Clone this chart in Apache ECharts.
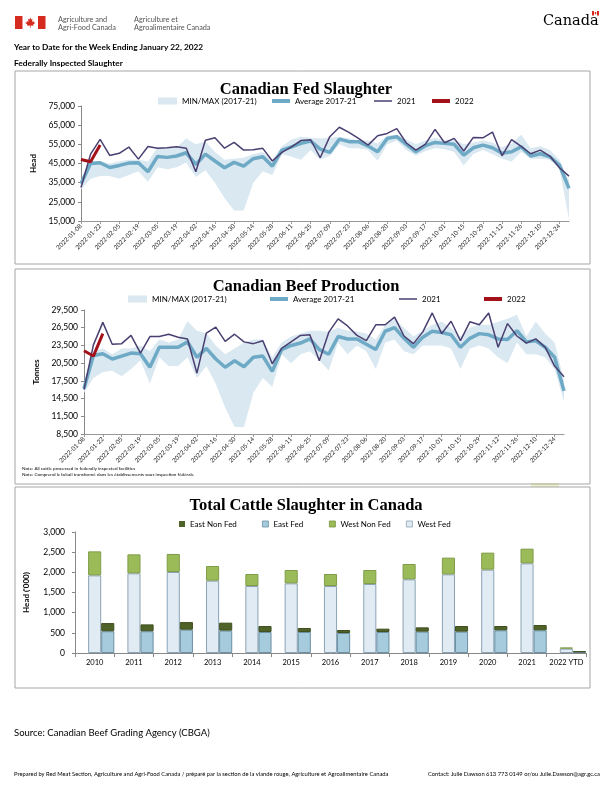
<!DOCTYPE html>
<html><head><meta charset="utf-8">
<script src="https://cdn.jsdelivr.net/npm/echarts@6/dist/echarts.min.js"></script>
<style>html,body{margin:0;padding:0;background:#fff;}#c{width:612px;height:792px;}</style>
</head><body><div id="c"></div>
<script>
// ---------- DATA ----------
const weeks = ['2022-01-08','2022-01-15','2022-01-22','2022-01-29','2022-02-05','2022-02-12','2022-02-19','2022-02-26','2022-03-05','2022-03-12','2022-03-19','2022-03-26','2022-04-02','2022-04-09','2022-04-16','2022-04-23','2022-04-30','2022-05-07','2022-05-14','2022-05-21','2022-05-28','2022-06-04','2022-06-11','2022-06-18','2022-06-25','2022-07-02','2022-07-09','2022-07-16','2022-07-23','2022-07-30','2022-08-06','2022-08-13','2022-08-20','2022-08-27','2022-09-03','2022-09-10','2022-09-17','2022-09-24','2022-10-01','2022-10-08','2022-10-15','2022-10-22','2022-10-29','2022-11-05','2022-11-12','2022-11-19','2022-11-26','2022-12-03','2022-12-10','2022-12-17','2022-12-24','2022-12-31'];

// Canadian Fed Slaughter (head)
const fedMin = [31500,37000,38500,38500,37000,39000,41000,35500,43000,42000,43000,45500,38000,41500,35000,27000,20500,20500,35000,41000,39000,50000,48500,47000,52000,47000,49000,55000,53000,53000,52000,46500,55000,57000,52000,49000,51500,53000,52500,51000,44000,50000,52000,50000,47500,46000,51000,47500,47500,47000,42000,16000];
const fedMax = [36000,46500,46000,45000,46000,47000,47000,46000,53500,53000,53500,58000,55000,56500,51000,47000,47500,48000,50000,51000,47000,54000,57500,59000,58500,58000,58500,59000,58000,57000,57000,55500,59500,60000,57500,55000,57000,58500,57000,57500,55000,56000,57000,56000,53500,55500,60000,53000,54000,52000,47000,36000];
const fedAvg = [34500,45000,45400,42900,44000,45200,45400,40700,48700,48200,48900,50600,44500,49900,46300,42800,45600,43600,47500,48500,43600,52000,53700,55500,56700,52500,50800,57700,56400,56400,54100,51100,58100,59000,55000,51100,54300,56000,55500,55000,49400,53200,54600,53200,50300,51100,53700,48900,50100,48500,44200,32000];
const fed2021 = [32500,49900,57600,49200,50300,53600,47300,53900,52900,53200,53700,53000,40700,57100,58400,53000,56000,52000,52200,52900,46300,50800,53700,57000,57400,48000,59000,63900,61200,58100,54600,59500,60700,63200,55700,52000,55100,62800,55800,58100,51500,58600,58400,61400,49000,57400,53900,50100,52000,48900,42800,38400];
const fed2022 = [47100,45900,54600];

// Canadian Beef Production (tonnes)
const beefMin = [15500,18000,19000,19200,18300,19500,21000,17000,21500,20000,20000,21500,18000,20000,17000,13000,9700,9700,15500,18000,16500,22000,20500,22000,22500,21000,19200,24000,22000,23500,22500,19500,24000,24500,22500,22000,23500,23500,23500,23000,19500,23000,23500,23000,21500,20500,24000,22000,22000,21500,19500,14000];
const beefMax = [16800,22500,23000,22000,23000,23000,23500,22500,24500,24000,24500,27600,26000,25500,23500,22000,23000,24000,24500,24500,21500,24000,25000,25500,26000,26000,25800,26500,26000,25800,25500,24500,27000,28000,26500,25000,26000,27000,27500,26500,25000,26500,27000,27000,27500,28000,28700,25000,27500,25500,24000,17500];
const beefAvg = [16200,21800,22100,21200,21700,22200,22100,19800,23200,23200,23200,24100,21500,23000,21200,19800,20900,19900,21500,21700,19100,22800,23500,23900,24600,22800,22000,25000,24600,24600,23700,22800,25900,26500,24700,23200,24900,25900,25700,25300,23200,24700,25500,25300,24600,24500,26000,24100,24300,23200,21500,15800];
const beef2021 = [16000,23600,27400,23700,23800,25200,22200,25000,25000,25400,24900,24600,18800,25600,26600,24200,25400,24100,23800,24300,20400,23000,24100,25200,25300,20900,25700,28000,26800,25200,24300,27000,27000,28300,25100,23800,25800,29000,25500,27600,24300,27500,27000,29000,23200,27200,25100,23900,24600,23200,20000,18200];
const beef2022 = [22600,21700,25500];

// Total Cattle Slaughter in Canada ('000 head)
const years = ['2010','2011','2012','2013','2014','2015','2016','2017','2018','2019','2020','2021','2022 YTD'];
const westFed    = [1925,1975,2008,1793,1661,1727,1661,1711,1826,1950,2066,2223,108];
const westNonFed = [595,471,447,364,298,331,298,347,381,414,422,364,28];
const eastFed    = [540,540,578,555,521,521,496,521,529,529,562,562,25];
const eastNonFed = [202,169,189,197,148,99,74,82,107,140,107,132,15];

// ---------- STYLE ----------
const FONT = 'Lato, "Liberation Sans", sans-serif';
const TFONT = '"Liberation Serif", "DejaVu Serif", serif';
const BAND = '#d9e8f1', AVG = '#6eaac5', C21 = '#4a3f70', C22 = '#a3121a';
const fmt = v => v.toLocaleString('en-US');

function xCat(gridIndex){
  return {type:'category', gridIndex, data: weeks, boundaryGap:false,
    axisLine:{lineStyle:{color:'#999',width:1}},
    axisTick:{interval:1, length:3, lineStyle:{color:'#999'}},
    axisLabel:{interval:1, rotate:45, fontSize:6.2, fontFamily:FONT, color:'#222', margin:4}};
}
function yVal(gridIndex, min, max, interval, name, nameGap, margin){
  return {type:'value', gridIndex, min, max, interval, name, nameLocation:'middle', nameGap,
    nameTextStyle:{fontSize:8, fontWeight:'bold', fontFamily:FONT, color:'#000'},
    splitLine:{show:false},
    axisLine:{show:true, lineStyle:{color:'#888'}},
    axisTick:{show:true, length:3, lineStyle:{color:'#888'}},
    axisLabel:{formatter:fmt, fontSize:8.5, fontFamily:FONT, color:'#000', margin}};
}
function bandSeries(idx, mins, maxs, key){
  return [
    {type:'line', name:key+'base', xAxisIndex:idx, yAxisIndex:idx, data:mins, stack:key, symbol:'none', silent:true,
      lineStyle:{opacity:0}, z:1},
    {type:'line', name:'MIN/MAX (2017-21)', xAxisIndex:idx, yAxisIndex:idx, data:maxs.map((v,i)=>v-mins[i]), stack:key,
      symbol:'none', silent:true, lineStyle:{opacity:0}, itemStyle:{color:BAND}, areaStyle:{color:BAND, opacity:1}, z:1}
  ];
}
function lineSeries(idx, name, data, color, width, z){
  return {type:'line', name, xAxisIndex:idx, yAxisIndex:idx, data, symbol:'none', silent:true,
    itemStyle:{color}, lineStyle:{color, width}, z};
}
function leg(name, left, top, w, h, color, fs, border){
  return {data:[{name, icon:'rect', itemStyle:{color, borderColor:border||color, borderWidth:border?0.8:0}}],
    left, top, padding:0, itemWidth:w, itemHeight:h, selectedMode:false,
    textStyle:{fontSize:fs, fontFamily:FONT, color:'#000'}};
}
const titleStyle = fs => ({fontFamily:TFONT, fontWeight:'bold', fontSize:fs, color:'#000'});

const option = {
  backgroundColor:'#fff',
  animation:false,
  title:[
    {text:'Canadian Fed Slaughter', left:'center', top:76, textStyle:titleStyle(16.5)},
    {text:'Canadian Beef Production', left:'center', top:273, textStyle:titleStyle(16.5)},
    {text:'Total Cattle Slaughter in Canada', left:'center', top:492, textStyle:titleStyle(16.5)}
  ],
  legend:[
    leg('MIN/MAX (2017-21)', 158, 97, 19, 7, BAND, 8),
    leg('Average 2017-21', 272, 97, 18, 4, AVG, 8),
    leg('2021', 374, 97, 18, 1.5, C21, 8),
    leg('2022', 432, 97, 18, 4, C22, 8),
    leg('MIN/MAX (2017-21)', 128, 295, 19, 7, BAND, 8),
    leg('Average 2017-21', 270, 295, 18, 4, AVG, 8),
    leg('2021', 399, 295, 18, 1.5, C21, 8),
    leg('2022', 484, 295, 18, 4, C22, 8),
    leg('East Non Fed', 179, 520, 6, 6, '#4f6228', 8),
    leg('East Fed', 262, 520, 6, 6, '#a5cbdd', 8, '#6b8fa3'),
    leg('West Non Fed', 329, 520, 6, 6, '#9bbb59', 8, '#76933c'),
    leg('West Fed', 406, 520, 6, 6, '#e0ebf4', 8, '#8ba3b4')
  ],
  grid:[
    {left:81, right:43, top:106, bottom:571},
    {left:84, right:48, top:310, bottom:358},
    {left:75, right:26, top:532, bottom:139}
  ],
  xAxis:[
    xCat(0), xCat(1),
    {type:'category', gridIndex:2, data:years,
      axisLine:{lineStyle:{color:'#888'}}, axisTick:{show:true, length:4, lineStyle:{color:'#888'}},
      axisLabel:{interval:0, fontSize:7.5, fontFamily:FONT, color:'#000', margin:6}}
  ],
  yAxis:[
    yVal(0, 15000, 75000, 10000, 'Head', 37, 6),
    yVal(1, 8500, 29500, 3000, 'Tonnes', 38, 6),
    yVal(2, 0, 3000, 500, "Head ('000)", 44.5, 10)
  ],
  series:[
    ...bandSeries(0, fedMin, fedMax, 'fedBand'),
    lineSeries(0, 'Average 2017-21', fedAvg, AVG, 3.5, 3),
    lineSeries(0, '2021', fed2021, C21, 1.5, 4),
    lineSeries(0, '2022', fed2022, C22, 3, 5),
    ...bandSeries(1, beefMin, beefMax, 'beefBand'),
    lineSeries(1, 'Average 2017-21', beefAvg, AVG, 3.5, 3),
    lineSeries(1, '2021', beef2021, C21, 1.5, 4),
    lineSeries(1, '2022', beef2022, C22, 3, 5),
    // empty first slot (the reference reserves an unused bar position left of each pair)
    {type:'bar', name:'_slot', xAxisIndex:2, yAxisIndex:2, stack:'slot', data:years.map(()=>null),
      barGap:'0%', barCategoryGap:'0%', silent:true},
    {type:'bar', name:'West Fed', xAxisIndex:2, yAxisIndex:2, stack:'west', data:westFed, barGap:'0%', barCategoryGap:'0%',
      itemStyle:{color:'#e0ebf4', borderColor:'#8ba3b4', borderWidth:1}, silent:true},
    {type:'bar', name:'West Non Fed', xAxisIndex:2, yAxisIndex:2, stack:'west', data:westNonFed, barGap:'0%', barCategoryGap:'0%',
      itemStyle:{color:'#9bbb59', borderColor:'#7f9c48', borderWidth:1}, silent:true},
    {type:'bar', name:'East Fed', xAxisIndex:2, yAxisIndex:2, stack:'east', data:eastFed, barGap:'0%', barCategoryGap:'0%',
      itemStyle:{color:'#a5cbdd', borderColor:'#6b8fa3', borderWidth:1}, silent:true},
    {type:'bar', name:'East Non Fed', xAxisIndex:2, yAxisIndex:2, stack:'east', data:eastNonFed, barGap:'0%', barCategoryGap:'0%',
      itemStyle:{color:'#4f6228', borderColor:'#3f4f20', borderWidth:1}, silent:true}
  ],
  graphic:[
    // chart frames
    {type:'rect', shape:{x:15, y:71, width:575, height:193}, style:{fill:null, stroke:'#a6a6a6', lineWidth:1}, z:-1},
    {type:'rect', shape:{x:15, y:269, width:575, height:215}, style:{fill:null, stroke:'#a6a6a6', lineWidth:1}, z:-1},
    {type:'rect', shape:{x:15, y:487, width:575, height:201}, style:{fill:null, stroke:'#a6a6a6', lineWidth:1}, z:-1},
    {type:'rect', shape:{x:531, y:483, width:28, height:4}, style:{fill:'#eef0c8'}, z:-2},
    // AAFC logo
    {type:'rect', shape:{x:15, y:16, width:7.5, height:13}, style:{fill:'#d52b1e'}},
    {type:'rect', shape:{x:38, y:16, width:7.5, height:13}, style:{fill:'#d52b1e'}},
    {type:'group', x:24.5, y:16.5, scaleX:0.72, scaleY:0.78, children:[
      {type:'polygon', shape:{points:[[8,1],[9,4],[11,3],[10.5,7],[13,5.5],[12.5,7.5],[15,8],[12,10.5],[12.5,12],[8.5,11.5],[8.5,14.5],[7.5,14.5],[7.5,11.5],[3.5,12],[4,10.5],[1,8],[3.5,7.5],[3,5.5],[5.5,7],[5,3],[7,4]]}, style:{fill:'#d52b1e'}}
    ]},
    {type:'text', left:58, top:15, style:{text:'Agriculture and\nAgri-Food Canada', font:'7.3px '+FONT, fill:'#555', lineHeight:8.5}},
    {type:'text', left:134, top:15, style:{text:'Agriculture et\nAgroalimentaire Canada', font:'7.3px '+FONT, fill:'#555', lineHeight:8.5}},
    // Canada wordmark
    {type:'text', left:543, top:14, style:{text:'Canada', font:'14.5px "DejaVu Serif", serif', fill:'#000'}},
    {type:'rect', shape:{x:592, y:11, width:2, height:4.5}, style:{fill:'#d52b1e'}},
    {type:'rect', shape:{x:597, y:11, width:2, height:4.5}, style:{fill:'#d52b1e'}},
    {type:'rect', shape:{x:594.8, y:12, width:1.4, height:2.2}, style:{fill:'#d52b1e'}},
    // headings
    {type:'text', left:14, top:43, style:{text:'Year to Date for the Week Ending January 22, 2022', font:'bold 8.3px '+FONT, fill:'#000'}},
    {type:'text', left:14, top:59, style:{text:'Federally Inspected Slaughter', font:'bold 8.3px '+FONT, fill:'#000'}},
    // notes
    {type:'text', left:22, top:466, style:{text:'Note: All cattle processed in federally inspected facilities', font:'4.6px '+FONT, fill:'#000'}},
    {type:'text', left:22, top:472, style:{text:'Note: Comprend le bétail transformé dans les établissements sous inspection fédérale', font:'4.6px '+FONT, fill:'#000'}},
    // footer
    {type:'text', left:14, top:728, style:{text:'Source: Canadian Beef Grading Agency (CBGA)', font:'9.5px '+FONT, fill:'#000'}},
    {type:'text', left:14, top:771, style:{text:'Prepared by Red Meat Section, Agriculture and Agri-Food Canada / préparé par la section de la viande rouge, Agriculture et Agroalimentaire Canada', font:'5.8px '+FONT, fill:'#000'}},
    {type:'text', right:12, top:771, style:{text:'Contact: Julie Dawson 613 773 0149 or/ou Julie.Dawson@agr.gc.ca', font:'5.8px '+FONT, fill:'#000'}}
  ]
};
const chart = echarts.init(document.getElementById('c'), null, {renderer:'canvas'});
chart.setOption(option);
</script>
</body></html>
